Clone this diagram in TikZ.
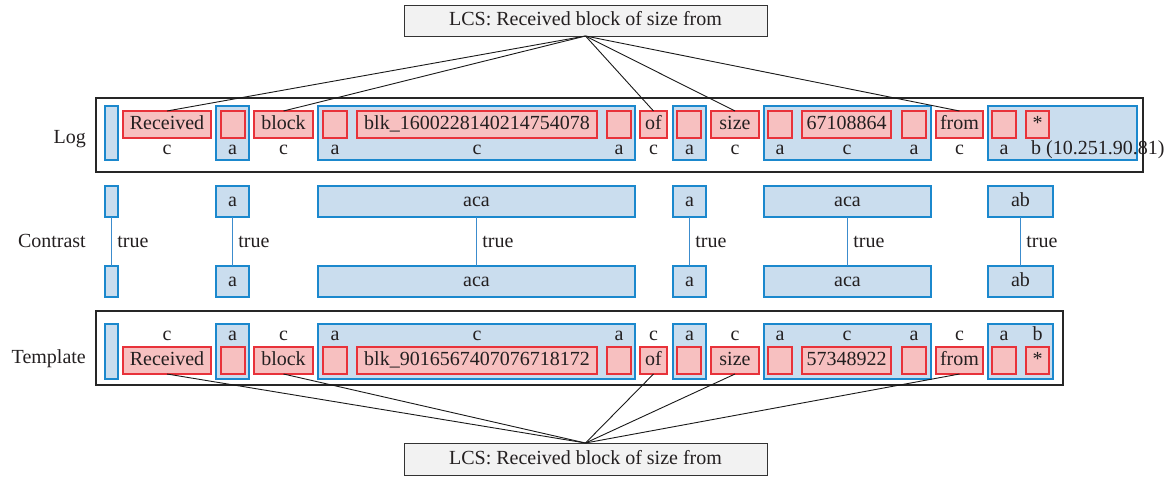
\documentclass[tikz,border=0pt]{standalone}
\usepackage{fontspec}
\setmainfont{Liberation Serif}
\definecolor{bluebd}{RGB}{27,136,205}
\definecolor{bluefill}{RGB}{202,221,238}
\definecolor{blueline}{RGB}{60,140,205}
\definecolor{redbd}{RGB}{232,50,58}
\definecolor{redfill}{RGB}{247,192,192}
\definecolor{txt}{RGB}{35,31,32}
\definecolor{lcsfill}{RGB}{242,242,242}
\newcommand\mkbox[7]{\node[#1, minimum width={(#4-#3)*1pt}, minimum height={(#6-#5)*1pt}] (#2) at ({(#3+#4)/2},{(#5+#6)/2}) {#7};}
\newcommand\mklbl[4]{\node[lbl] (#1) at (#2,#3) {#4};}
\begin{document}
\begin{tikzpicture}[x=1pt, y=-1pt,
  every node/.style={font=\fontsize{20}{24}\selectfont, text=txt},
  bbox/.style={draw=bluebd, fill=bluefill, line width=1.1pt, inner sep=0pt, outer sep=0pt, text height=14pt, text depth=4pt},
  rbox/.style={draw=redbd, fill=redfill, line width=1.1pt, inner sep=0pt, outer sep=0pt, text height=14pt, text depth=4pt},
  outer/.style={draw=black!85, line width=1.3pt, inner sep=0pt, outer sep=0pt},
  lcs/.style={draw=black!80, fill=lcsfill, line width=1pt, inner sep=0pt, outer sep=0pt, text height=14pt, text depth=4pt},
  lbl/.style={anchor=base, inner sep=0pt},
  rowlbl/.style={anchor=base east, inner sep=0pt},
  conn/.style={draw=black!90, line width=0.9pt},
  cline/.style={draw=blueline, line width=1.6pt},
  truelbl/.style={right, inner sep=5pt}
]
\useasboundingbox (0,0) rectangle (1176,477);

% LCS boxes
\mkbox{lcs}{lcsT}{404}{767}{5}{36}{LCS: Received block of size from}
\mkbox{lcs}{lcsB}{404}{767}{443}{475}{LCS: Received block of size from}

% row labels
\node[rowlbl] (logl) at (86,143) {Log};
\node[rowlbl] (conl) at (86,247) {Contrast};
\node[rowlbl] (tmpl) at (86,363) {Template};

% ---------------- Log ----------------
\mkbox{outer}{logbox}{96}{1143}{98}{172}{}
\mkbox{bbox}{L0}{105}{118}{106}{160}{}
\mkbox{bbox}{L1}{216}{249}{106}{160}{}
\mkbox{bbox}{L2}{318}{635}{106}{160}{}
\mkbox{bbox}{L3}{673}{706}{106}{160}{}
\mkbox{bbox}{L4}{764}{931}{106}{160}{}
\mkbox{bbox}{L5}{988}{1137}{106}{160}{}

\mkbox{rbox}{Lrec}{123}{211}{111}{138}{Received}
\mkbox{rbox}{L1r}{221}{245}{111}{138}{}
\mkbox{rbox}{Lblock}{254}{313}{111}{138}{block}
\mkbox{rbox}{L2a}{323}{347}{111}{138}{}
\mkbox{rbox}{Lblk}{357}{597}{111}{138}{blk\_1600228140214754078}
\mkbox{rbox}{L2b}{607}{631}{111}{138}{}
\mkbox{rbox}{Lof}{640}{667}{111}{138}{of}
\mkbox{rbox}{L3r}{677}{701}{111}{138}{}
\mkbox{rbox}{Lsize}{711}{759}{111}{138}{size}
\mkbox{rbox}{L4a}{768}{792}{111}{138}{}
\mkbox{rbox}{Lnum}{802}{891}{111}{138}{67108864}
\mkbox{rbox}{L4b}{902}{926}{111}{138}{}
\mkbox{rbox}{Lfrom}{936}{983}{111}{138}{from}
\mkbox{rbox}{L5a}{992}{1016}{111}{138}{}
\mkbox{rbox}{Lstar}{1026}{1049}{111}{138}{*}

\mklbl{lc1}{167}{154.5}{c}
\mklbl{la1}{232.5}{154.5}{a}
\mklbl{lc2}{283.5}{154.5}{c}
\mklbl{la2}{335}{154.5}{a}
\mklbl{lc3}{477}{154.5}{c}
\mklbl{la3}{619}{154.5}{a}
\mklbl{lc4}{653.5}{154.5}{c}
\mklbl{la4}{689.5}{154.5}{a}
\mklbl{lc5}{735}{154.5}{c}
\mklbl{la5}{780}{154.5}{a}
\mklbl{lc6}{847}{154.5}{c}
\mklbl{la6}{914}{154.5}{a}
\mklbl{lc7}{959.5}{154.5}{c}
\mklbl{la7}{1004}{154.5}{a}
\node[anchor=base west, inner sep=0pt] (lb1) at (1031,154.5) {b (10.251.90.81)};

% ---------------- Contrast ----------------
\mkbox{bbox}{C0t}{105}{118}{186}{217}{}
\mkbox{bbox}{C1t}{216}{249}{186}{217}{a}
\mkbox{bbox}{C2t}{318}{635}{186}{217}{aca}
\mkbox{bbox}{C3t}{673}{706}{186}{217}{a}
\mkbox{bbox}{C4t}{764}{931}{186}{217}{aca}
\mkbox{bbox}{C5t}{988}{1053}{186}{217}{ab}
\mkbox{bbox}{C0b}{105}{118}{266}{297}{}
\mkbox{bbox}{C1b}{216}{249}{266}{297}{a}
\mkbox{bbox}{C2b}{318}{635}{266}{297}{aca}
\mkbox{bbox}{C3b}{673}{706}{266}{297}{a}
\mkbox{bbox}{C4b}{764}{931}{266}{297}{aca}
\mkbox{bbox}{C5b}{988}{1053}{266}{297}{ab}
\draw[cline] (C0t) -- node[truelbl] {true} (C0b);
\draw[cline] (C1t) -- node[truelbl] {true} (C1b);
\draw[cline] (C2t) -- node[truelbl] {true} (C2b);
\draw[cline] (C3t) -- node[truelbl] {true} (C3b);
\draw[cline] (C4t) -- node[truelbl] {true} (C4b);
\draw[cline] (C5t) -- node[truelbl] {true} (C5b);

% ---------------- Template ----------------
\mkbox{outer}{tmpbox}{96}{1063}{311}{385}{}
\mkbox{bbox}{T0}{105}{118}{324}{379}{}
\mkbox{bbox}{T1}{216}{249}{324}{379}{}
\mkbox{bbox}{T2}{318}{635}{324}{379}{}
\mkbox{bbox}{T3}{673}{706}{324}{379}{}
\mkbox{bbox}{T4}{764}{931}{324}{379}{}
\mkbox{bbox}{T5}{988}{1053}{324}{379}{}

\mkbox{rbox}{Trec}{123}{211}{347}{374}{Received}
\mkbox{rbox}{T1r}{221}{245}{347}{374}{}
\mkbox{rbox}{Tblock}{254}{313}{347}{374}{block}
\mkbox{rbox}{T2a}{323}{347}{347}{374}{}
\mkbox{rbox}{Tblk}{357}{597}{347}{374}{blk\_9016567407076718172}
\mkbox{rbox}{T2b}{607}{631}{347}{374}{}
\mkbox{rbox}{Tof}{640}{667}{347}{374}{of}
\mkbox{rbox}{T3r}{677}{701}{347}{374}{}
\mkbox{rbox}{Tsize}{711}{759}{347}{374}{size}
\mkbox{rbox}{T4a}{768}{792}{347}{374}{}
\mkbox{rbox}{Tnum}{802}{891}{347}{374}{57348922}
\mkbox{rbox}{T4b}{902}{926}{347}{374}{}
\mkbox{rbox}{Tfrom}{936}{983}{347}{374}{from}
\mkbox{rbox}{T5a}{992}{1016}{347}{374}{}
\mkbox{rbox}{Tstar}{1026}{1049}{347}{374}{*}

\mklbl{tc1}{167}{340}{c}
\mklbl{ta1}{232.5}{340}{a}
\mklbl{tc2}{283.5}{340}{c}
\mklbl{ta2}{335}{340}{a}
\mklbl{tc3}{477}{340}{c}
\mklbl{ta3}{619}{340}{a}
\mklbl{tc4}{653.5}{340}{c}
\mklbl{ta4}{689.5}{340}{a}
\mklbl{tc5}{735}{340}{c}
\mklbl{ta5}{780}{340}{a}
\mklbl{tc6}{847}{340}{c}
\mklbl{ta6}{914}{340}{a}
\mklbl{tc7}{959.5}{340}{c}
\mklbl{ta7}{1004}{340}{a}
\mklbl{tb1}{1037.5}{340}{b}

% ---------------- connectors ----------------
\foreach \n in {Lrec,Lblock,Lof,Lsize,Lfrom}
  \draw[conn] (lcsT.south) -- (\n.north);
\foreach \n in {Trec,Tblock,Tof,Tsize,Tfrom}
  \draw[conn] (lcsB.north) -- (\n.south);
\end{tikzpicture}
\end{document}
